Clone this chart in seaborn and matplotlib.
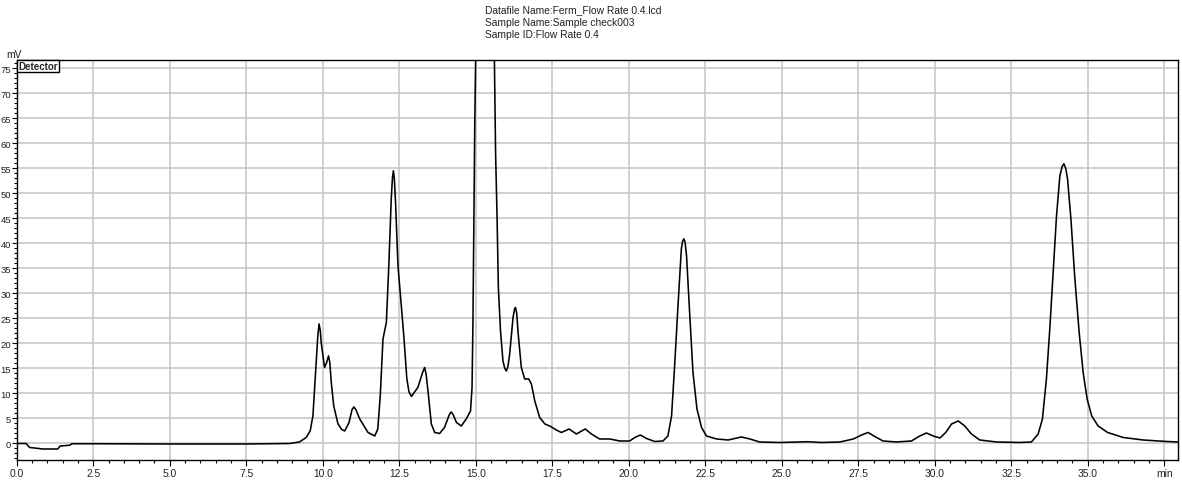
import numpy as np
import pandas as pd
import seaborn as sns
import matplotlib.pyplot as plt
from matplotlib.ticker import MultipleLocator, FuncFormatter

tempo = [
    0.00, 0.31, 0.42, 0.58, 0.85, 1.34, 1.42, 1.73, 1.81, 2.50, 5.00, 7.50,
    8.92, 9.24, 9.46, 9.59, 9.68, 9.76, 9.84, 9.88, 9.92, 9.95, 10.06,
    10.13, 10.19, 10.23, 10.28,
    10.36, 10.50, 10.62, 10.72, 10.86, 10.96, 11.02, 11.08, 11.21, 11.48,
    11.70, 11.80, 11.88,
    11.97, 12.08, 12.16, 12.24, 12.28, 12.31, 12.34, 12.38, 12.46, 12.57,
    12.65, 12.75, 12.82,
    12.90, 13.11, 13.27, 13.33, 13.38, 13.44, 13.55, 13.66, 13.82, 13.98,
    14.14, 14.20, 14.26, 14.37,
    14.53, 14.69, 14.83, 14.88, 14.91, 14.94, 14.97, 15.00, 15.07, 15.27,
    15.45, 15.61, 15.65, 15.70, 15.74, 15.81, 15.89, 15.95, 16.00, 16.05,
    16.11, 16.22, 16.27, 16.30, 16.34, 16.38, 16.49, 16.60, 16.73, 16.82,
    16.93, 17.09, 17.26, 17.45,
    17.63, 17.80, 18.05, 18.29, 18.58, 18.78, 19.05, 19.38, 19.71, 20.03,
    20.20, 20.38, 20.58, 20.85, 21.12, 21.28, 21.40, 21.50, 21.61, 21.72,
    21.76, 21.80, 21.84, 21.89, 21.99, 22.10, 22.23, 22.38, 22.54, 22.87,
    23.25, 23.47,
    23.68, 23.96, 24.28, 24.94, 25.85, 26.30, 26.90, 27.34, 27.61, 27.82,
    28.04, 28.31, 28.75, 29.24, 29.51, 29.73, 29.95, 30.17, 30.36, 30.55,
    30.77, 30.98, 31.20, 31.47, 32.02, 32.78, 33.16, 33.38, 33.52, 33.65,
    33.76, 33.87, 33.98, 34.09, 34.16, 34.22, 34.28, 34.34, 34.45, 34.58,
    34.72, 34.85, 34.98, 35.13, 35.34, 35.65, 36.16, 36.81, 37.58, 37.95,
]
sinal = [
    0.0, 0.0, -0.8, -0.9, -1.1, -1.1, -0.5, -0.35, -0.05, -0.05, -0.1, -0.1,
    0.0, 0.3, 1.2, 2.5, 5.5, 13.5, 21.5, 23.9, 22.6, 20.2, 15.2,
    16.2, 17.5, 16.3, 12.2,
    7.5, 3.9, 2.8, 2.5, 4.2, 6.8, 7.3, 6.8, 4.9, 2.2,
    1.5, 2.9, 9.5,
    20.9, 24.2, 35.5, 48.9, 53.2, 54.5, 53.0, 48.2, 35.5, 27.5,
    21.5, 12.9, 10.3,
    9.4, 11.2, 14.3, 15.2, 13.8, 10.5, 3.9, 2.2, 2.0, 3.2,
    5.8, 6.3, 5.8, 4.2,
    3.5, 4.9, 6.5, 11.2, 24.5, 44.5, 64.5, 77.0, 110.0, 160.0,
    130.0, 76.9, 57.9, 44.5, 31.2, 22.5, 16.5, 15.0, 14.5, 15.3,
    17.9, 25.2, 26.9, 27.2, 26.0, 22.5, 15.2, 12.9, 12.9, 11.9,
    8.5, 5.2, 3.9, 3.4,
    2.7, 2.2, 2.9, 1.9, 2.9, 1.9, 0.9, 0.9, 0.5, 0.5,
    1.2, 1.7, 1.0, 0.4, 0.5, 1.5, 5.5, 15.5, 27.5, 38.9,
    40.4, 40.9, 40.3, 37.5, 26.2, 14.2, 6.9, 3.2, 1.5, 0.9,
    0.7, 1.0,
    1.3, 0.9, 0.3, 0.2, 0.35, 0.2, 0.3, 0.9, 1.7, 2.2,
    1.4, 0.5, 0.3, 0.5, 1.5, 2.1, 1.5, 1.1, 2.2, 3.9,
    4.5, 3.5, 1.9, 0.7, 0.3, 0.2, 0.3, 1.9, 4.9, 12.9,
    22.9, 34.2, 45.5, 53.5, 55.3, 55.9, 55.0, 52.9, 44.9, 32.9,
    22.2, 14.2, 8.9, 5.5, 3.5, 2.2, 1.2, 0.7, 0.4, 0.3,
]

cabecalho = ["Datafile Name:Ferm_Flow Rate 0.4.lcd",
             "Sample Name:Sample check003",
             "Sample ID:Flow Rate 0.4"]

df = pd.DataFrame({"min": tempo, "mV": sinal})

sns.set_theme(style="whitegrid")
plt.rcParams["font.family"] = ["Liberation Sans", "DejaVu Sans"]

fig = plt.figure(figsize=(11.82, 4.81), dpi=100)
ax = fig.add_axes([0.01413, 0.04158, 0.98249, 0.83222])

sns.lineplot(data=df, x="min", y="mV", estimator=None, sort=False,
             color="black", linewidth=1.15, ax=ax)

ax.set_xlim(0, 37.95)
ax.set_ylim(-3.3, 76.7)
ax.set_facecolor("white")

# eixos e grade
ax.xaxis.set_major_locator(MultipleLocator(2.5))
ax.xaxis.set_minor_locator(MultipleLocator(0.5))
ax.yaxis.set_major_locator(MultipleLocator(5))
ax.yaxis.set_minor_locator(MultipleLocator(1))
ax.xaxis.set_major_formatter(FuncFormatter(
    lambda v, p: "min" if abs(v - 37.5) < 1e-6 else f"{v:.1f}"))
ax.yaxis.set_major_formatter(FuncFormatter(lambda v, p: f"{v:.0f}"))

ax.grid(True, which="major", color="#c4c4c4", linewidth=1.1)
ax.grid(False, which="minor")
for s in ax.spines.values():
    s.set_color("black")
    s.set_linewidth(1.0)

ax.tick_params(which="major", direction="out", width=0.8, colors="black",
               bottom=True, left=True)
ax.tick_params(which="minor", direction="out", length=2.5, width=0.8,
               colors="black", bottom=True, left=True)
ax.tick_params(axis="x", which="major", length=4, labelsize=7.4, pad=1.5,
               labelcolor="#222222")
ax.tick_params(axis="y", which="major", length=3.5, labelsize=6.8, pad=0.6,
               labelcolor="#222222")
ax.set_xlabel("")
ax.set_ylabel("")

# textos
ax.text(0.0015, 0.997, "Detector", transform=ax.transAxes, ha="left",
        va="top", fontsize=7.0, fontweight="bold",
        bbox=dict(facecolor="white", edgecolor="black", linewidth=1.0,
                  pad=0.8))
fig.text(14 / 1182, 1 - 55 / 481, "mV", ha="center", va="center",
         fontsize=7.4, color="#222222")
for i, linha in enumerate(cabecalho):
    fig.text(485 / 1182, 1 - (10 + 12.5 * i) / 481, linha, ha="left",
             va="center", fontsize=7.4, color="#222222")

fig.savefig("out.png", dpi=100)
